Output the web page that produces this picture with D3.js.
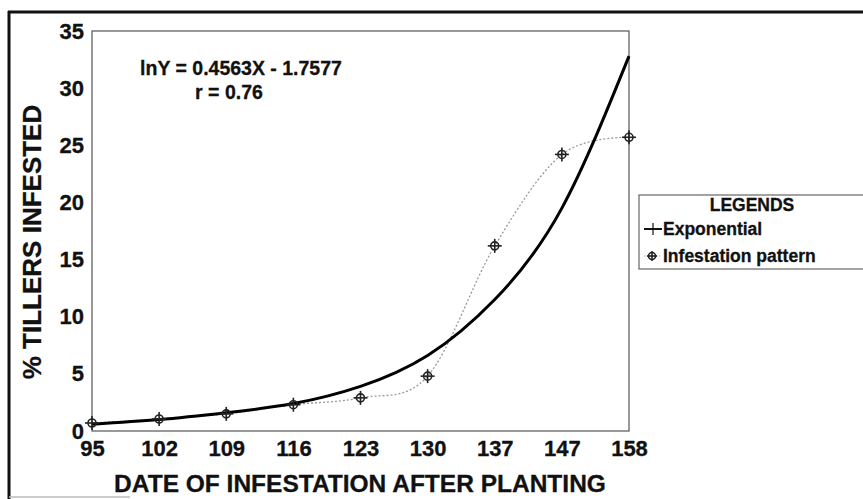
<!DOCTYPE html>
<html>
<head>
<meta charset="utf-8">
<script src="https://cdn.jsdelivr.net/npm/d3@7"></script>
<style>
  body { margin: 0; background: #fff; }
  text { font-family: Arial, "Liberation Sans", sans-serif; font-weight: bold; fill: #111; stroke: #111; stroke-width: 0.3px; }
</style>
</head>
<body>
<div id="chart"></div>
<script>
// data
var dates = ["95", "102", "109", "116", "123", "130", "137", "147", "158"];
var infestation = [0.7, 1.05, 1.5, 2.3, 2.9, 4.8, 16.2, 24.2, 25.7];
var exponential = [0.6, 1.0, 1.6, 2.4, 3.9, 6.6, 11.5, 19.5, 32.8];
var yTicks = [0, 5, 10, 15, 20, 25, 30, 35];

var width = 863, height = 499;
var box = { left: 92, top: 31, right: 629, bottom: 431 };

var svg = d3.select("#chart").append("svg")
    .attr("width", width)
    .attr("height", height);

svg.append("rect").attr("width", width).attr("height", height).attr("fill", "#fff");

// outer frame of the scanned figure
svg.append("line").attr("x1", 8).attr("x2", width).attr("y1", 12).attr("y2", 12)
    .attr("stroke", "#111").attr("stroke-width", 3);
svg.append("line").attr("x1", 9).attr("x2", 9).attr("y1", 11).attr("y2", height)
    .attr("stroke", "#111").attr("stroke-width", 3);
svg.append("line").attr("x1", 9).attr("x2", 130).attr("y1", 497).attr("y2", 497)
    .attr("stroke", "#bbb").attr("stroke-width", 1.5);

var x = d3.scalePoint()
    .domain(dates)
    .range([box.left, box.right]);

var y = d3.scaleLinear()
    .domain([0, 35])
    .range([box.bottom, box.top]);

// plot area
svg.append("rect")
    .attr("x", box.left).attr("y", box.top)
    .attr("width", box.right - box.left).attr("height", box.bottom - box.top)
    .attr("fill", "none").attr("stroke", "#555").attr("stroke-width", 1.2);

// axes
var yAxis = d3.axisLeft(y).tickValues(yTicks).tickSize(0).tickPadding(8);
var gy = svg.append("g").attr("transform", "translate(" + box.left + ",0)").call(yAxis);
gy.select(".domain").remove();
gy.selectAll("text").style("font-size", "22px").attr("fill", "#111");

var xAxis = d3.axisBottom(x).tickSize(0).tickPadding(9);
var gx = svg.append("g").attr("transform", "translate(0," + box.bottom + ")").call(xAxis);
gx.select(".domain").remove();
gx.selectAll("text").style("font-size", "22px").attr("fill", "#111").attr("dy", "0.72em");

// axis titles
svg.append("text")
    .attr("x", 360).attr("y", 492)
    .attr("text-anchor", "middle")
    .style("font-size", "24.5px")
    .text("DATE OF INFESTATION AFTER PLANTING");

svg.append("text")
    .attr("transform", "translate(41,242) rotate(-90)")
    .attr("text-anchor", "middle")
    .style("font-size", "26px")
    .text("% TILLERS INFESTED");

// infestation pattern, smoothed dotted line
var smooth = d3.line()
    .x(function(d, i) { return x(dates[i]); })
    .y(function(d) { return y(d); })
    .curve(d3.curveCardinal.tension(0));

svg.append("path")
    .datum(infestation)
    .attr("d", smooth)
    .attr("fill", "none")
    .attr("stroke", "#999")
    .attr("stroke-width", 1.3)
    .attr("stroke-dasharray", "2,2");

// exponential fit
var expLine = d3.line()
    .x(function(d, i) { return x(dates[i]); })
    .y(function(d) { return y(d); })
    .curve(d3.curveNatural);

svg.append("path")
    .datum(exponential)
    .attr("d", expLine)
    .attr("fill", "none")
    .attr("stroke", "#000")
    .attr("stroke-width", 3);

// markers: circle with cross
function marker(g, r, arm) {
    g.append("circle").attr("r", r).attr("fill", "none").attr("stroke", "#222").attr("stroke-width", 1.6);
    g.append("line").attr("x1", -arm).attr("x2", arm).attr("stroke", "#222").attr("stroke-width", 1.6);
    g.append("line").attr("y1", -arm).attr("y2", arm).attr("stroke", "#222").attr("stroke-width", 1.6);
}

svg.selectAll(".pt")
    .data(infestation)
    .enter().append("g")
    .attr("class", "pt")
    .attr("transform", function(d, i) { return "translate(" + x(dates[i]) + "," + y(d) + ")"; })
    .each(function() { marker(d3.select(this), 4, 7); });

// regression text
svg.append("text").attr("x", 241).attr("y", 75).attr("text-anchor", "middle")
    .style("font-size", "19.5px").text("lnY = 0.4563X - 1.7577");
svg.append("text").attr("x", 229).attr("y", 99).attr("text-anchor", "middle")
    .style("font-size", "19.5px").text("r = 0.76");

// legend
var legend = svg.append("g");
legend.append("rect")
    .attr("x", 639).attr("y", 195).attr("width", 260).attr("height", 74)
    .attr("fill", "#fff").attr("stroke", "#666").attr("stroke-width", 1.2);
legend.append("text").attr("x", 752).attr("y", 211).attr("text-anchor", "middle")
    .style("font-size", "17.5px").text("LEGENDS");

legend.append("line").attr("x1", 644).attr("x2", 662).attr("y1", 229).attr("y2", 229)
    .attr("stroke", "#111").attr("stroke-width", 2);
legend.append("line").attr("x1", 653).attr("x2", 653).attr("y1", 223).attr("y2", 235)
    .attr("stroke", "#111").attr("stroke-width", 1.2);
legend.append("text").attr("x", 663).attr("y", 235).style("font-size", "17.5px").text("Exponential");

var lm = legend.append("g").attr("transform", "translate(652,256)");
lm.append("line").attr("x1", -8).attr("x2", 8).attr("stroke", "#aaa").attr("stroke-width", 1).attr("stroke-dasharray", "1.5,1.5");
marker(lm, 3.5, 5);
legend.append("text").attr("x", 663).attr("y", 262).style("font-size", "17.5px").text("Infestation pattern");
</script>
</body>
</html>
